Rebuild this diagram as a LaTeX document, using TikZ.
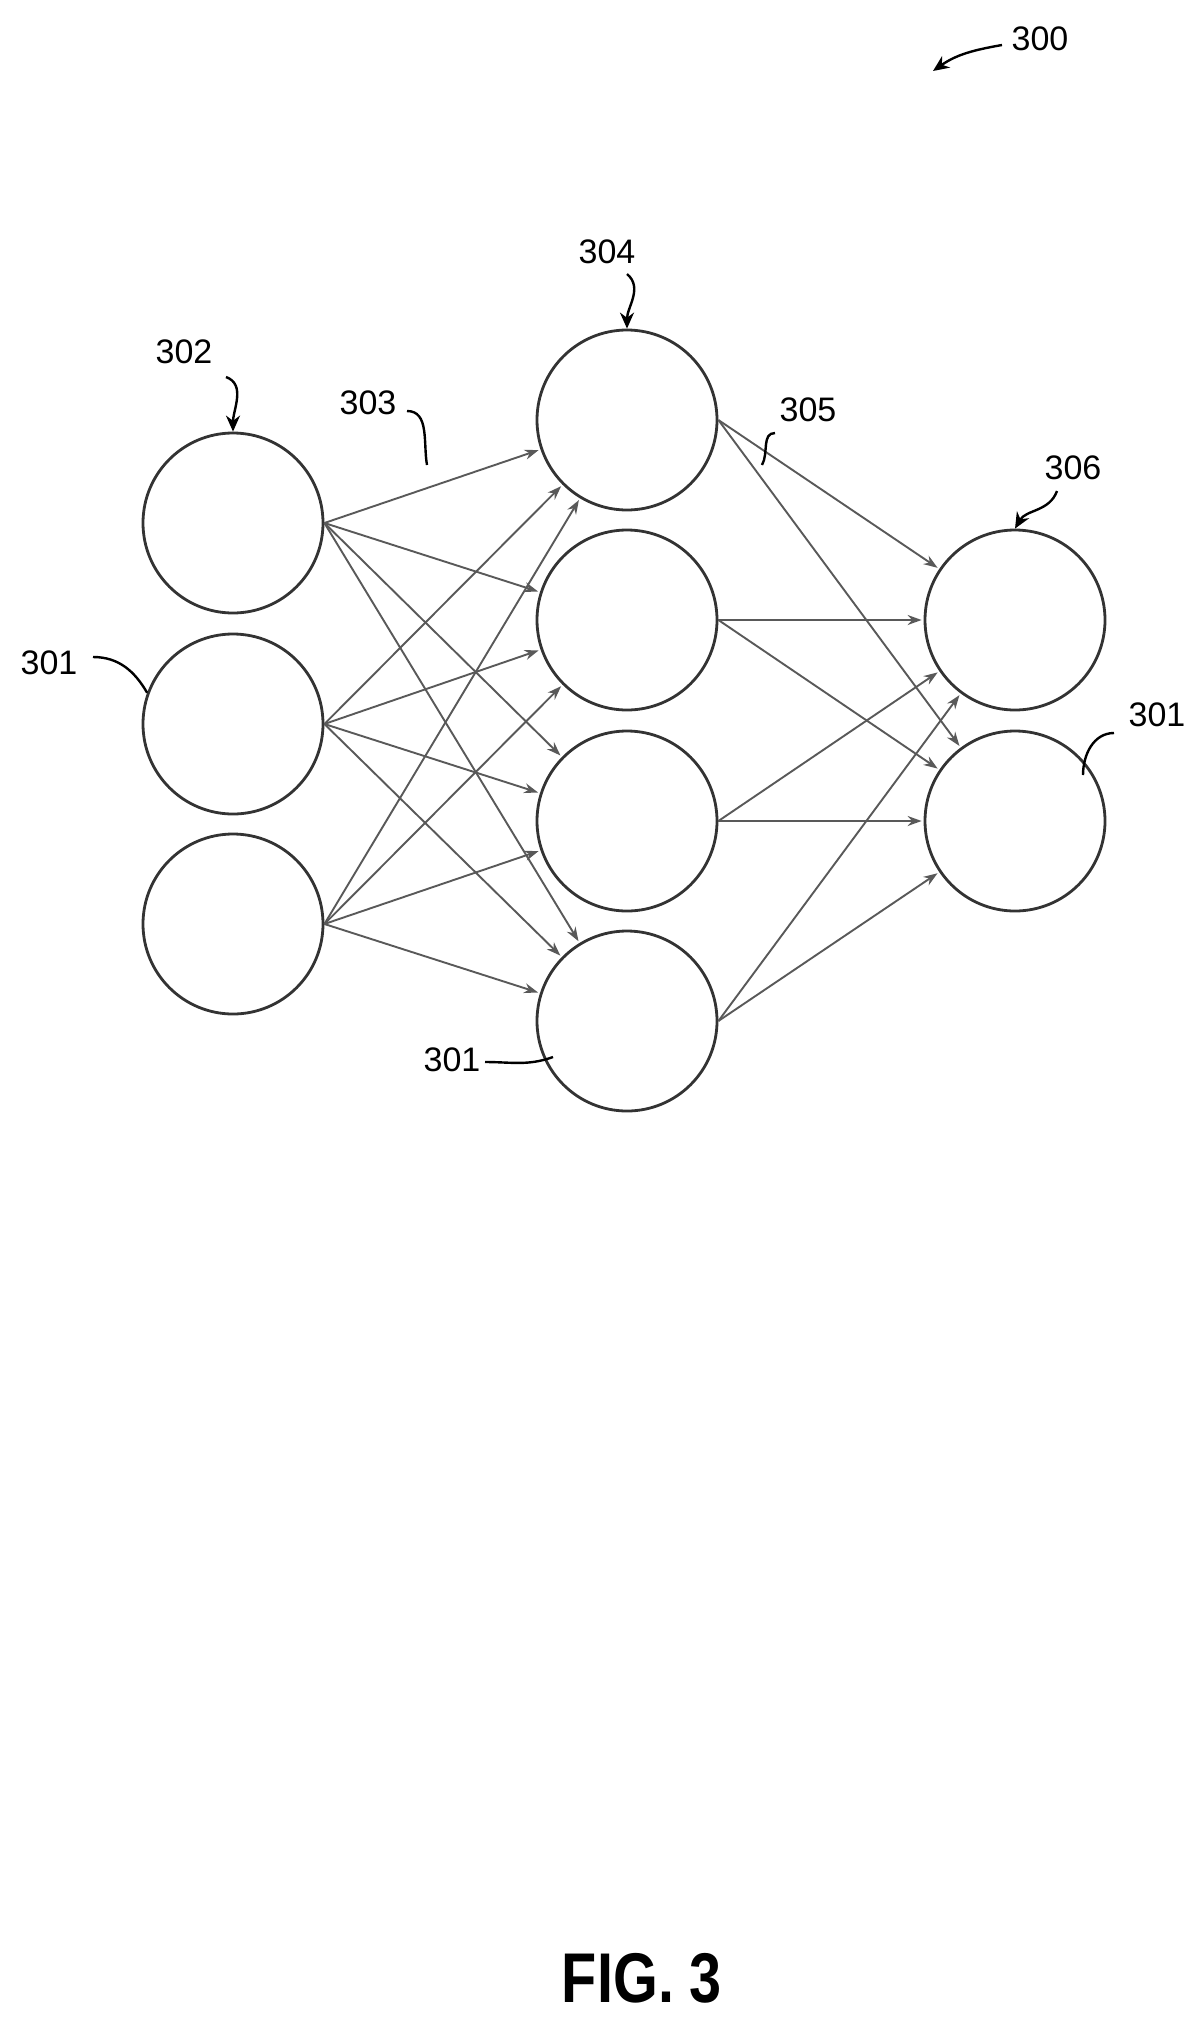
\documentclass[tikz,border=0pt]{standalone}
\usepackage{fontspec}
\setmainfont{Liberation Sans}
\usetikzlibrary{arrows.meta}
\begin{document}
\begin{tikzpicture}[x=1pt,y=-1pt,
  neuron/.style={circle,draw=black!80,line width=2.8pt,minimum size=180pt,inner sep=0pt},
  conn/.style={draw=black!65,line width=1.9pt,-{Stealth[length=14pt,width=10pt]},shorten >=2pt},
  lab/.style={font=\fontsize{34}{36}\selectfont,inner sep=0pt},
  lead/.style={draw=black,line width=2.4pt},
  leadarr/.style={draw=black,line width=2.4pt,-{Stealth[length=16pt,width=14pt]}}]
\useasboundingbox (0,0) rectangle (1202,2029);
\node[neuron] (L1) at (233,523) {};
\node[neuron] (L2) at (233,724) {};
\node[neuron] (L3) at (233,924) {};
\node[neuron] (M1) at (627,420) {};
\node[neuron] (M2) at (627,620) {};
\node[neuron] (M3) at (627,821) {};
\node[neuron] (M4) at (627,1021) {};
\node[neuron] (R1) at (1015,620) {};
\node[neuron] (R2) at (1015,821) {};
\foreach \l in {L1,L2,L3}{\foreach \m in {M1,M2,M3,M4}{\draw[conn] (\l.east) -- (\m);}}
\foreach \m in {M1,M2,M3,M4}{\foreach \r in {R1,R2}{\draw[conn] (\m.east) -- (\r);}}
\node[lab] (t300) at (1040,39) {300};
\node[lab] (t302) at (184,352) {302};
\node[lab] (t303) at (368,403) {303};
\node[lab] (t304) at (607,252) {304};
\node[lab] (t305) at (808,410) {305};
\node[lab] (t306) at (1073,468) {306};
\node[lab] (t301a) at (49,663) {301};
\node[lab] (t301b) at (1157,715) {301};
\node[lab] (t301c) at (452,1060) {301};
\node[font=\bfseries\fontsize{64}{70}\selectfont,xscale=0.9,yscale=1.1] (fig) at (642,1978) {FIG. 3};
\coordinate (e300) at (933,71);
\draw[leadarr] (1002,45) to[out=190,in=35] (e300);
\draw[leadarr] (226,377) to[out=-20,in=90] (L1.north);
\draw[leadarr] (627,274) to[out=-40,in=90] (M1.north);
\draw[leadarr] (1057,491) to[out=-110,in=60] (R1.north);
\draw[lead] (407,411) to[out=0,in=100] (427,465);
\draw[lead] (775,433) to[out=180,in=60] (762,465);
\draw[lead] (93,657) to[out=0,in=120] (L2.160);
\draw[lead] (1114,733) to[out=180,in=90] (1083,775);
\draw[lead] (485,1062) to[out=0,in=200] (553,1057);
\end{tikzpicture}
\end{document}
